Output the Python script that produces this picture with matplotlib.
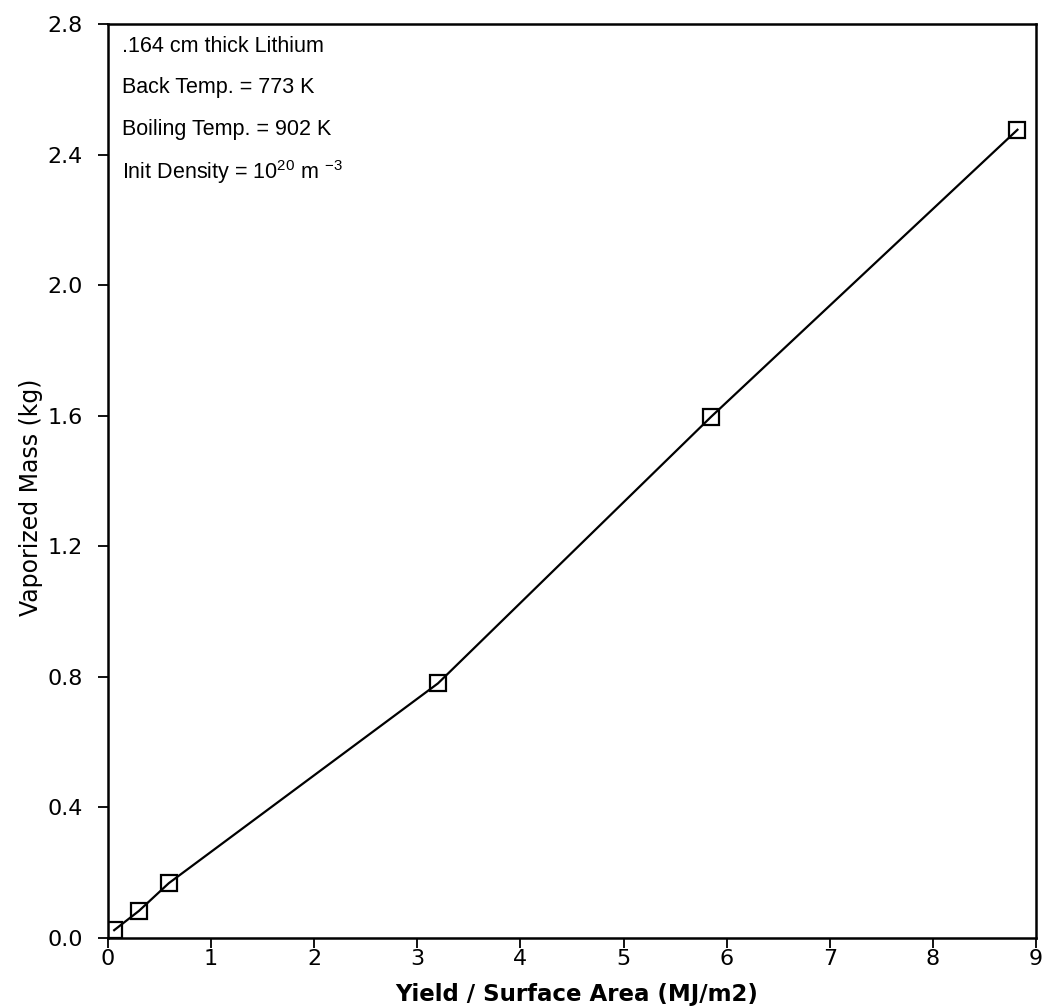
import matplotlib
matplotlib.use("Agg")
import matplotlib.pyplot as plt

plt.rcParams['font.family'] = ['DejaVu Sans']
plt.rcParams['mathtext.fontset'] = 'custom'
plt.rcParams['mathtext.rm'] = 'Liberation Sans'

yield_per_area = [0.06, 0.30, 0.59, 3.20, 5.85, 8.82]
vaporized_mass = [0.024, 0.083, 0.168, 0.78, 1.597, 2.476]
x_ticks = [0, 1, 2, 3, 4, 5, 6, 7, 8, 9]
y_ticks = [0.0, 0.4, 0.8, 1.2, 1.6, 2.0, 2.4, 2.8]
y_tick_labels = ["0.0", "0.4", "0.8", "1.2", "1.6", "2.0", "2.4", "2.8"]
notes = [".164 cm thick Lithium",
         "Back Temp. = 773 K",
         "Boiling Temp. = 902 K",
         "Init Density = 10$^{20}$ m $^{-3}$"]

L, R, B, T = 108, 1036, 938, 24
W, H = 1052, 1006
fig = plt.figure(figsize=(W/100, H/100), dpi=100)
ax = fig.add_axes([L/W, 1-B/H, (R-L)/W, (B-T)/H])

ax.plot(yield_per_area, vaporized_mass, color='black', lw=1.6,
        marker='s', markersize=11, markerfacecolor='none',
        markeredgecolor='black', markeredgewidth=1.6)

ax.set_xlim(0, 9)
ax.set_ylim(0, 2.8)
ax.set_xticks(x_ticks)
ax.set_yticks(y_ticks)
ax.set_yticklabels(y_tick_labels)
ax.tick_params(axis='both', direction='out', length=7, width=1.3,
               labelsize=16, colors='black')
ax.tick_params(axis='y', pad=11)
ax.tick_params(axis='x', pad=1)
for s in ax.spines.values():
    s.set_linewidth(1.8)

fig.text(577/W, 1-994/H, "Yield / Surface Area (MJ/m2)",
         fontsize=16.5, fontweight='bold', ha='center', va='center')
ax.set_ylabel("Vaporized Mass (kg)", fontsize=17)
ax.yaxis.set_label_coords(-(L-43)/(R-L), 1-(497-T)/(B-T))

for i, t in enumerate(notes):
    ax.text(14/(R-L), 1 - (22 + 42*i)/(B-T), t, transform=ax.transAxes,
            fontsize=15.5, va='center', ha='left', family='Liberation Sans')

fig.savefig("out.png", dpi=100)
